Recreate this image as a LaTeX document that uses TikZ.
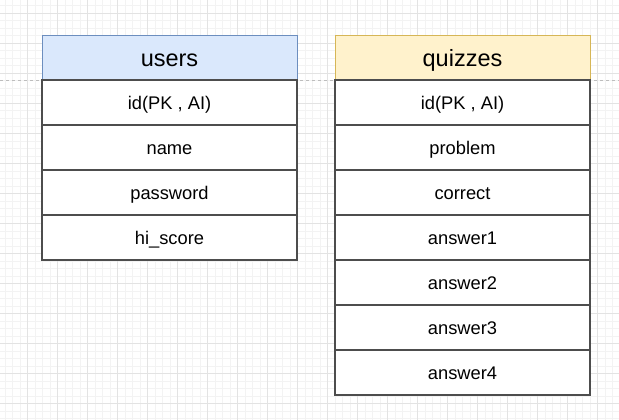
\documentclass[tikz,border=0pt]{standalone}
\usepackage{fontspec}
\setmainfont{Liberation Sans}
\usetikzlibrary{positioning}

\definecolor{usersfill}{HTML}{DAE8FC}
\definecolor{usersline}{HTML}{6C8EBF}
\definecolor{quizfill}{HTML}{FFF2CC}
\definecolor{quizline}{HTML}{D6B656}
\definecolor{rowline}{HTML}{4D4D4D}
\definecolor{gridminor}{HTML}{F3F3F3}
\definecolor{gridmajor}{HTML}{E3E3E3}
\definecolor{pageline}{HTML}{BDBDBD}

\tikzset{
	field/.style={draw=rowline, fill=white, line width=1.2pt,
		minimum width=255pt, minimum height=45pt,
		inner sep=0pt, outer sep=0pt, text height=16pt, text depth=1.6pt,
		font=\fontsize{18.3}{22}\selectfont},
	tablehead/.style={field, line width=1pt, minimum height=44pt,
		text height=19.5pt, text depth=1.6pt,
		font=\fontsize{23.5}{28}\selectfont},
}

\begin{document}
\begin{tikzpicture}[x=1pt,y=-1pt]

	\useasboundingbox (0,0) rectangle (619,420);
	\clip (0,0) rectangle (619,420);

	% background grid
	\begin{scope}[shift={(27.3,13.3)}]
		\draw[gridminor, line width=0.6pt] (-30,-30) grid[step=7.5pt] (600,420);
		\draw[gridmajor, line width=0.8pt] (-30,-30) grid[step=30pt] (600,420);
	\end{scope}
	\coordinate (pl) at (0,80.3);
	\coordinate (pr) at (619,80.3);
	\draw[pageline, line width=0.8pt, dash pattern=on 3pt off 3pt] (pl) -- (pr);

	% users
	\node[tablehead, draw=usersline, fill=usersfill] (users) at (169.5,58) {users};
	\node[field, below=0pt of users] (uid) {id(PK , AI)};
	\node[field, below=0pt of uid] (uname) {name};
	\node[field, below=0pt of uname] (upass) {password};
	\node[field, below=0pt of upass] (uscore) {hi\_score};

	% quizzes
	\node[tablehead, draw=quizline, fill=quizfill] (quizzes) at (462.5,58) {quizzes};
	\node[field, below=0pt of quizzes] (qid) {id(PK , AI)};
	\node[field, below=0pt of qid] (qprob) {problem};
	\node[field, below=0pt of qprob] (qcorr) {correct};
	\node[field, below=0pt of qcorr] (qans1) {answer1};
	\node[field, below=0pt of qans1] (qans2) {answer2};
	\node[field, below=0pt of qans2] (qans3) {answer3};
	\node[field, below=0pt of qans3] (qans4) {answer4};

\end{tikzpicture}
\end{document}
